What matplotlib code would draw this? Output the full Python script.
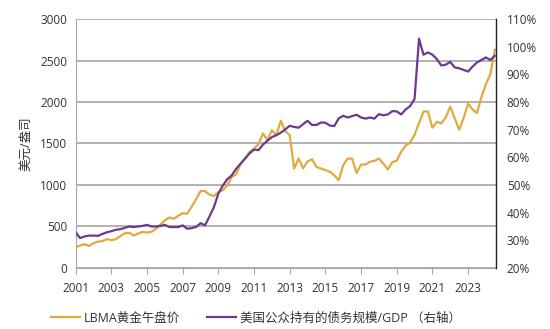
import matplotlib
matplotlib.use("Agg")
import matplotlib.pyplot as plt
import numpy as np

plt.rcParams['font.family'] = ['Open Sans', 'Noto Sans CJK SC', 'DejaVu Sans']

# Quarterly data, 2001Q1 .. 2024Q3 (plotted at 2001.0, 2001.25, ...)
start_year = 2001
gold = [250, 270, 286, 266, 298, 318, 323, 347, 335, 347, 383, 419,
        423, 391, 415, 435, 427, 435, 472, 524, 573, 609, 593, 629,
        661, 653, 738, 827, 927, 927, 883, 867, 915, 935, 996, 1097,
        1129, 1258, 1318, 1399, 1440, 1492, 1621, 1540,
        1661, 1600, 1774, 1650, 1600, 1198, 1319, 1200, 1282, 1310, 1218, 1198,
        1180, 1160, 1117, 1058, 1238, 1318, 1318, 1145, 1246, 1246, 1280, 1290,
        1318, 1258, 1187, 1276, 1292, 1402, 1475, 1510, 1605, 1745, 1885, 1885,
        1690, 1760, 1742, 1815, 1944, 1805, 1666, 1805, 1980, 1911, 1866, 2062,
        2215, 2335, 2630]
debt_gdp = [32.9, 30.8, 31.4, 31.7, 31.7, 31.6, 32.3, 32.9, 33.3, 33.8, 34.0, 34.5,
            35.0, 34.8, 35.0, 35.2, 35.6, 35.0, 35.0, 35.2, 35.6, 34.8, 34.8, 34.8,
            35.4, 34.2, 34.4, 34.8, 36.2, 35.4, 38.6, 42.0, 46.9, 49.8, 52.1, 53.5,
            55.9, 57.7, 59.6, 61.4, 62.8, 62.6, 64.6, 66.0,
            67.3, 68.0, 68.9, 70.1, 71.4, 71.0, 70.7, 72.0, 73.2, 71.7, 71.7, 72.6,
            72.5, 71.5, 71.3, 74.1, 75.0, 74.4, 74.9, 75.4, 74.4, 74.0, 74.4, 74.0,
            75.6, 75.2, 75.5, 76.7, 76.6, 75.5, 77.3, 78.5, 81.1, 102.9, 97.1, 97.9,
            97.1, 95.5, 93.2, 93.5, 94.5, 92.5, 92.2, 91.6, 91.0, 92.8, 94.3, 95.2,
            96.1, 95.2, 96.7]
year_ticks = list(range(2001, 2024, 2))
left_ticks = [0, 500, 1000, 1500, 2000, 2500, 3000]
right_ticks = [20, 30, 40, 50, 60, 70, 80, 90, 100, 110]

x = start_year + np.arange(len(gold)) * 0.25

gold_c = '#E2A93E'
purple_c = '#6B3A8E'
text_c = '#333333'
grid_c = '#A6A6A6'

fig = plt.figure(figsize=(5.5, 3.29), dpi=100)
ax = fig.add_axes([0.1376, 0.1855, 0.7637, 0.7567])
ax2 = ax.twinx()

l1, = ax.plot(x, gold, color=gold_c, lw=1.6, label='LBMA黄金午盘价', zorder=3)
l2, = ax2.plot(x, debt_gdp, color=purple_c, lw=1.6, label='美国公众持有的债务规模/GDP （右轴）', zorder=3)

ax.set_xlim(2001, x[-1] + 0.05)
ax.set_ylim(0, 3000)
ax2.set_ylim(20, 110)

ax.set_yticks(left_ticks)
ax.set_yticklabels([str(v) for v in left_ticks])
ax2.set_yticks(right_ticks)
ax2.set_yticklabels([f'{v}%' for v in right_ticks])
ax.set_xticks(year_ticks)
ax.set_xticklabels([str(v) for v in year_ticks])

ax.yaxis.grid(True, color=grid_c, lw=1.2)
ax.set_axisbelow(True)

for a in (ax, ax2):
    a.spines['top'].set_visible(False)
ax.spines['left'].set_color(grid_c)
ax.spines['bottom'].set_color(grid_c)
ax.spines['right'].set_visible(False)
ax2.spines['left'].set_visible(False)
ax2.spines['bottom'].set_visible(False)
ax2.spines['right'].set_color('#222222')
ax2.spines['right'].set_linewidth(1.0)

ax.tick_params(axis='y', length=0, labelsize=8.5, colors=text_c, pad=6)
ax.tick_params(axis='x', length=4, color=grid_c, labelsize=8.5, labelcolor=text_c, pad=6)
ax2.tick_params(axis='y', length=0, labelsize=8.5, colors=text_c, pad=8)

ax.set_ylabel('美元/盎司', fontsize=9, color=text_c, labelpad=6)

fig.legend(handles=[l1, l2], loc='center', bbox_to_anchor=(0.465, 0.033), ncol=2,
           frameon=False, fontsize=9, handlelength=2.3, columnspacing=2.2,
           handletextpad=0.3, labelcolor=text_c)

fig.savefig('out.png', dpi=100)
